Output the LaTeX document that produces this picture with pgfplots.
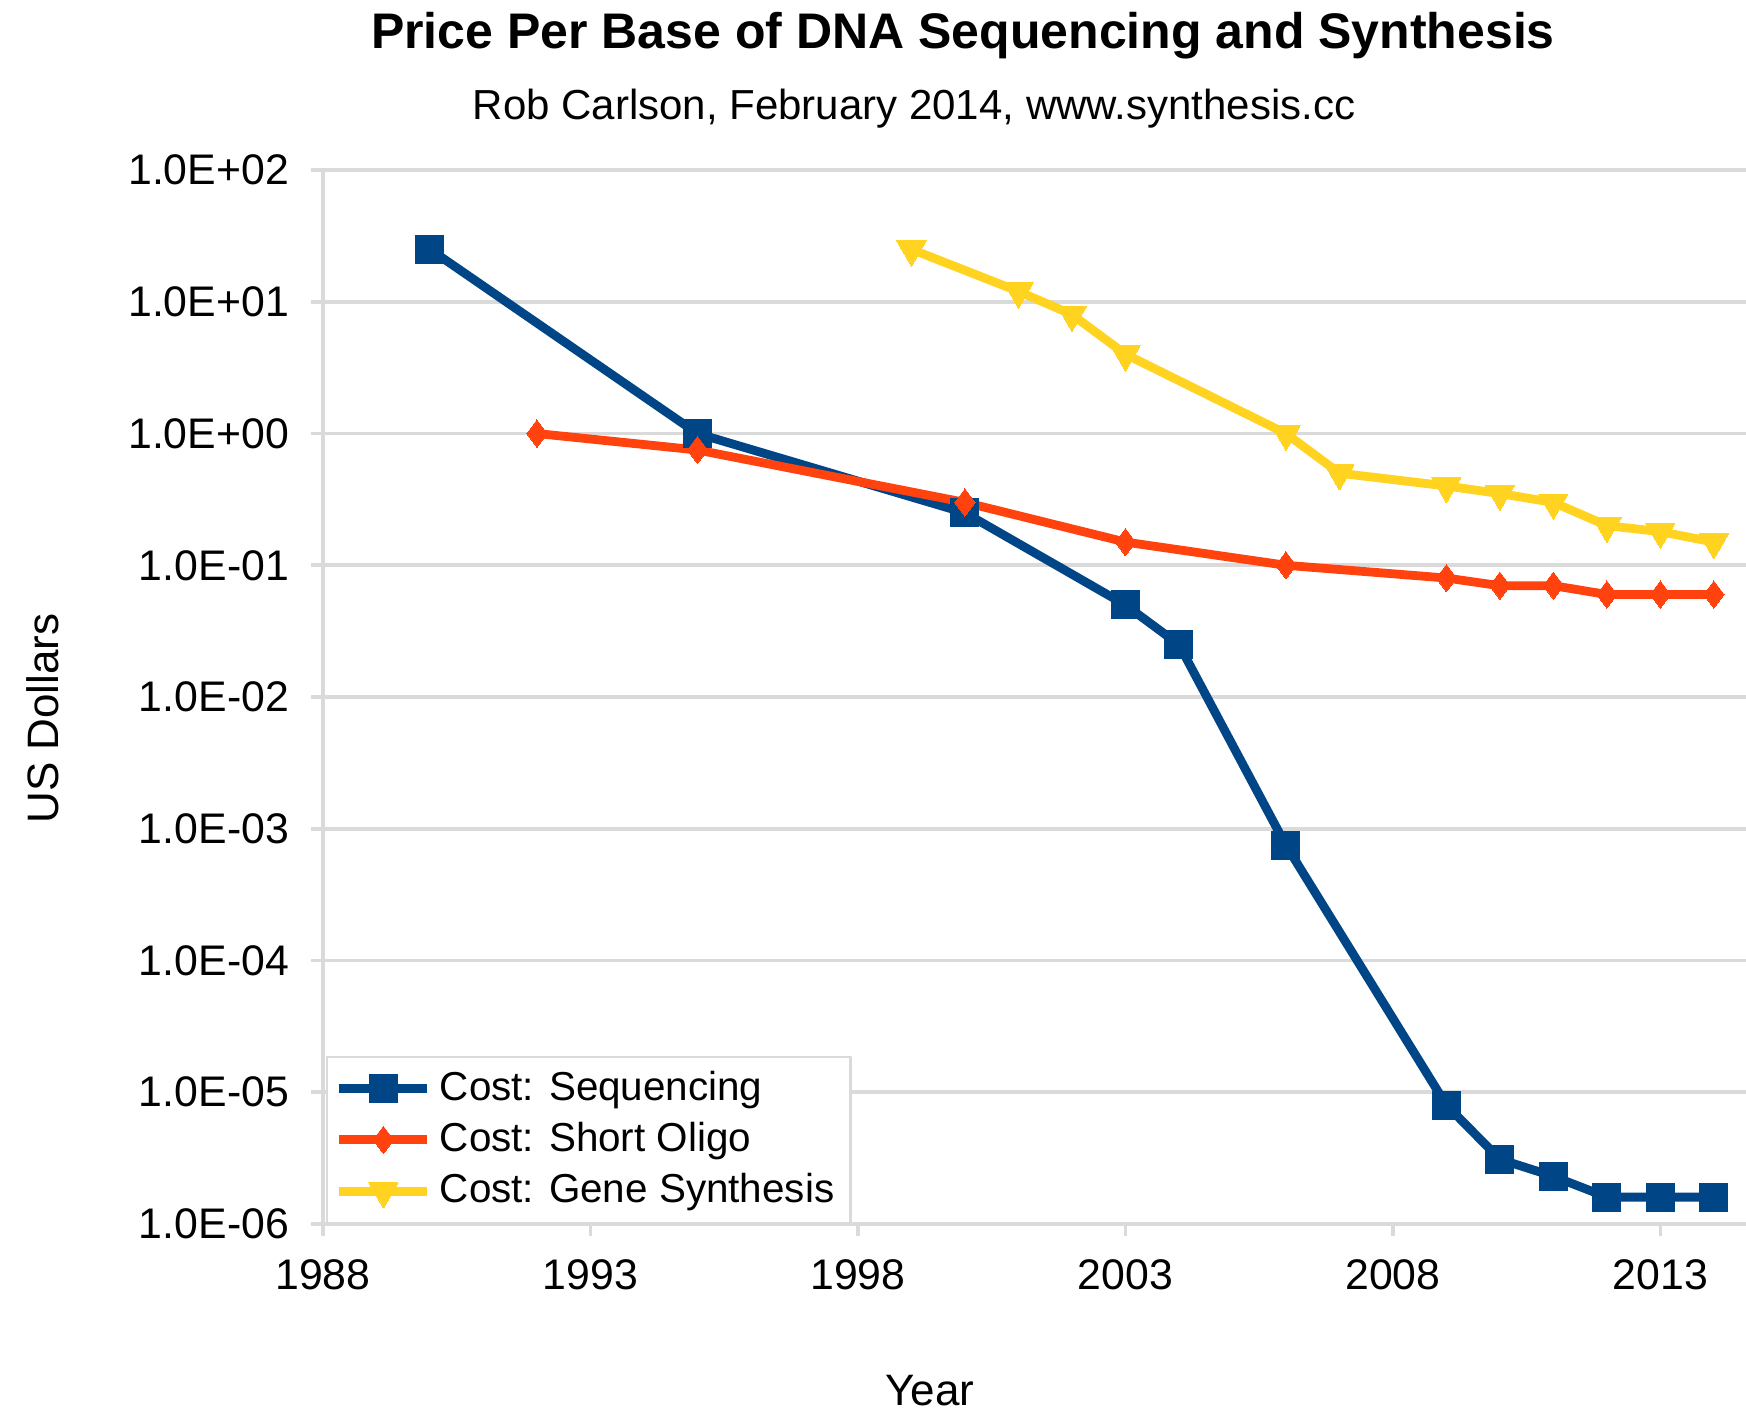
\documentclass[border=0pt]{standalone}
\usepackage{pgfplots}
\pgfplotsset{compat=1.18}
\usepackage{fontspec}
\setmainfont{Liberation Sans}
\definecolor{seqblue}{HTML}{004586}
\definecolor{oligo}{HTML}{FF420E}
\definecolor{gene}{HTML}{FFD320}
\definecolor{gridgray}{HTML}{DADADA}
\begin{document}
\begin{tikzpicture}
\useasboundingbox (0,0) rectangle (436.5pt,353.25pt);
\begin{axis}[
  at={(80.75pt,47.25pt)}, anchor=south west,
  scale only axis, width=355.75pt, height=263.5pt,
  ymode=log, ymin=1e-6, ymax=1e2,
  xmin=1988, xmax=2014.6,
  xtick={1988,1993,1998,2003,2008,2013},
  ytick={1e-6,1e-5,1e-4,1e-3,1e-2,1e-1,1e0,1e1,1e2},
  yticklabels={1.0E-06,1.0E-05,1.0E-04,1.0E-03,1.0E-02,1.0E-01,1.0E+00,1.0E+01,1.0E+02},
  minor ytick={},
  log basis y=10,
  x tick label style={/pgf/number format/1000 sep={}, font=\fontsize{10.7}{13}\selectfont},
  y tick label style={font=\fontsize{10.7}{13}\selectfont},
  /pgf/number format/assume math mode=true,
  axis x line*=bottom, axis y line*=left,
  axis line style={draw=gridgray, line width=0.9pt},
  tick style={draw=gridgray, line width=0.9pt},
  tick align=outside, major tick length=3pt,
  ymajorgrids, grid style={draw=gridgray, line width=0.9pt},
  xticklabel style={yshift=-2.3pt},
  yticklabel style={xshift=-2pt},
  legend style={at={(0.002,0)}, anchor=south west, draw=gridgray, line width=0.6pt,
    font=\fontsize{10.1}{12}\selectfont, inner xsep=2pt, inner ysep=1.5pt, row sep=0pt},
  legend cell align=left,
  legend image code/.code={
    \draw[#1, mark repeat=2, mark phase=2] plot coordinates {(0pt,0pt) (11pt,0pt) (22pt,0pt)};
  },
  every axis plot/.append style={line width=2.2pt},
]
\addplot[color=seqblue, mark=square*, mark size=3.5pt, mark options={line width=0pt}] coordinates {
 (1990,25) (1995,1.0) (2000,0.25) (2003,0.05) (2004,0.025) (2006,7.5e-4)
 (2009,8e-6) (2010,3.1e-6) (2011,2.3e-6) (2012,1.6e-6) (2013,1.6e-6) (2014,1.6e-6)};
\addlegendentry{Cost: Sequencing}
\addplot[color=oligo, mark=diamond*, mark size=3.4pt, mark options={line width=0pt}] coordinates {
 (1992,1.0) (1995,0.75) (2000,0.30) (2003,0.15) (2006,0.10) (2009,0.08)
 (2010,0.07) (2011,0.07) (2012,0.06) (2013,0.06) (2014,0.06)};
\addlegendentry{Cost: Short Oligo}
\addplot[color=gene, mark=triangle*, mark size=4.2pt, mark options={rotate=180, line width=0pt}] coordinates {
 (1999,25) (2001,12) (2002,8) (2003,4.0) (2006,1.0) (2007,0.5) (2009,0.40)
 (2010,0.35) (2011,0.30) (2012,0.20) (2013,0.18) (2014,0.15)};
\addlegendentry{Cost: Gene Synthesis}
\end{axis}
\node[font=\bfseries\fontsize{12.5}{15}\selectfont] at (240.75pt,344.25pt) {Price Per Base of DNA Sequencing and Synthesis};
\node[font=\fontsize{10.5}{12.5}\selectfont] at (228.5pt,326pt) {Rob Carlson, February 2014, www.synthesis.cc};
\node[font=\fontsize{11}{13}\selectfont, rotate=90] at (10.6pt,173.6pt) {US Dollars};
\node[font=\fontsize{11}{13}\selectfont] at (232.5pt,5.5pt) {Year};
\end{tikzpicture}
\end{document}
